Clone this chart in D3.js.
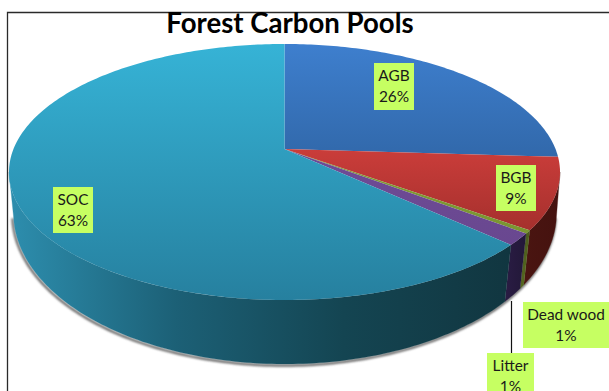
<!DOCTYPE html>
<html><head><meta charset="utf-8">
<script src="https://cdn.jsdelivr.net/npm/d3@7/dist/d3.min.js"></script>
<style>html,body{margin:0;padding:0;background:#fff;overflow:hidden}svg{display:block}</style>
</head><body><div id="c"></div>
<script>
const categories = ["AGB","BGB","Dead wood","Litter","SOC"];
const sliceShares = [26,9,0.4,1.5,63.1];
const percentLabels = ["26%","9%","1%","1%","63%"];
const title = "Forest Carbon Pools";
const topTop = ["#3e7fce","#d03f3c","#86a53a","#74509d","#36b3d6"];
const topBottom = ["#2c5f9c","#a32f2c","#76902e","#66458c","#26809f"];
const wallColors = [
  ["#1c3a60","#1c3a60"],["#4a1511","#45120f"],["#56691f","#4a5c1c"],["#2a1c44","#221838"],["#2d8eae","#1c6076","#144552","#113640"]
];
const labelBoxes = {"AGB":[374,63,40,47],"BGB":[496,165,40,46],"Dead wood":[523,302,86,46],"Litter":[487,353,47,46],"SOC":[53,187,40,46]};

const W=609,H=391;
const svg=d3.select("#c").append("svg").attr("width",W).attr("height",H);
const defs=svg.append("defs");
const f=defs.append("filter").attr("id","sh").attr("x","-5%").attr("y","-5%").attr("width","110%").attr("height","115%");
f.append("feGaussianBlur").attr("stdDeviation",1.3);

svg.append("path").attr("d",`M7.5,391V12.5H609`).attr("fill","none").attr("stroke","#2a2a2a").attr("stroke-width",1.3);

// projected disc: an ellipse whose centre of rotation sits above its geometric centre
const topDisc={cx:284.5,cy:172,rx:275.5,ry:128,a:-0.18};
const botDisc={cx:285,cy:213,rx:271.5,ry:151,a:-0.155};
function proj(d,t){
  const u=Math.sin(t),v=-Math.cos(t),k=1+d.a*v;
  return [d.cx+d.rx*u*Math.sqrt(1-d.a*d.a)/k, d.cy+d.ry*(v+d.a)/k];
}
const pie=d3.pie().sort(null).value(d=>d)(sliceShares);
const line=d3.line();
const arcPts=(d,a,b)=>{const n=Math.max(2,Math.ceil((b-a)*60));return d3.range(n+1).map(i=>proj(d,a+(b-a)*i/n));};

// front-facing range of the rim
const frontA=Math.acos(topDisc.a), frontB=Math.PI*2-frontA;

// soft shadow under the body
const shadowPts=arcPts(botDisc,frontA,frontB);
svg.append("path").attr("d",line(shadowPts)).attr("transform","translate(-1,1.5)")
  .attr("fill","none").attr("stroke","#666").attr("stroke-width",2.5).attr("filter","url(#sh)");

// walls
pie.forEach((s,i)=>{
  const a=Math.max(s.startAngle,frontA), b=Math.min(s.endAngle,frontB);
  if(b<=a) return;
  const t=arcPts(topDisc,a,b), w=arcPts(botDisc,a,b);
  const xs=t.concat(w).map(p=>p[0]);
  const id="w"+i;
  const g=defs.append("linearGradient").attr("id",id).attr("gradientUnits","userSpaceOnUse")
    .attr("x1",d3.min(xs)).attr("x2",d3.max(xs)).attr("y1",0).attr("y2",0);
  const cols=wallColors[i];
  cols.forEach((c,j)=>g.append("stop").attr("offset",j/(cols.length-1)).attr("stop-color",c));
  svg.append("path").attr("d",line(t.concat(w.reverse()))+"Z").attr("fill",`url(#${id})`).attr("stroke",`url(#${id})`).attr("stroke-width",0.3);
});

// top surface
const centre=[topDisc.cx, topDisc.cy+topDisc.ry*topDisc.a];
pie.forEach((s,i)=>{
  const id="t"+i;
  const tb=i===0?[0,0.62]:i===1?[0.36,0.75]:[0,1];
  const g=defs.append("linearGradient").attr("id",id).attr("gradientUnits","userSpaceOnUse")
    .attr("x1",0).attr("x2",0)
    .attr("y1",topDisc.cy-topDisc.ry+tb[0]*2*topDisc.ry).attr("y2",topDisc.cy-topDisc.ry+tb[1]*2*topDisc.ry);
  g.append("stop").attr("offset",0).attr("stop-color",topTop[i]);
  g.append("stop").attr("offset",1).attr("stop-color",topBottom[i]);
  const pts=[centre].concat(arcPts(topDisc,s.startAngle,s.endAngle));
  svg.append("path").attr("d",line(pts)+"Z").attr("fill",`url(#${id})`);
});

// leader for Litter
const lb=labelBoxes["Litter"];
svg.append("path").attr("d",`M${lb[0]+24.5},301V${lb[1]}`).attr("stroke","#111").attr("stroke-width",1.2).attr("fill","none");

// labels
categories.forEach((c,i)=>{
  const b=labelBoxes[c];
  svg.append("rect").attr("x",b[0]).attr("y",b[1]).attr("width",b[2]).attr("height",b[3]).attr("fill","#c6ff62");
  const tx=svg.append("text").attr("font-family","Lato, 'Open Sans', sans-serif").attr("font-size",15.4).attr("fill","#1a1a1a").attr("text-anchor","middle");
  tx.append("tspan").attr("x",b[0]+b[2]/2).attr("y",b[1]+18).text(c);
  tx.append("tspan").attr("x",b[0]+b[2]/2).attr("y",b[1]+39).text(percentLabels[i]);
});

svg.append("text").attr("x",290).attr("y",33).attr("text-anchor","middle")
  .attr("font-family","Lato, sans-serif").attr("font-weight",700).attr("font-size",27.6).attr("fill","#000").text(title);
</script></body></html>
